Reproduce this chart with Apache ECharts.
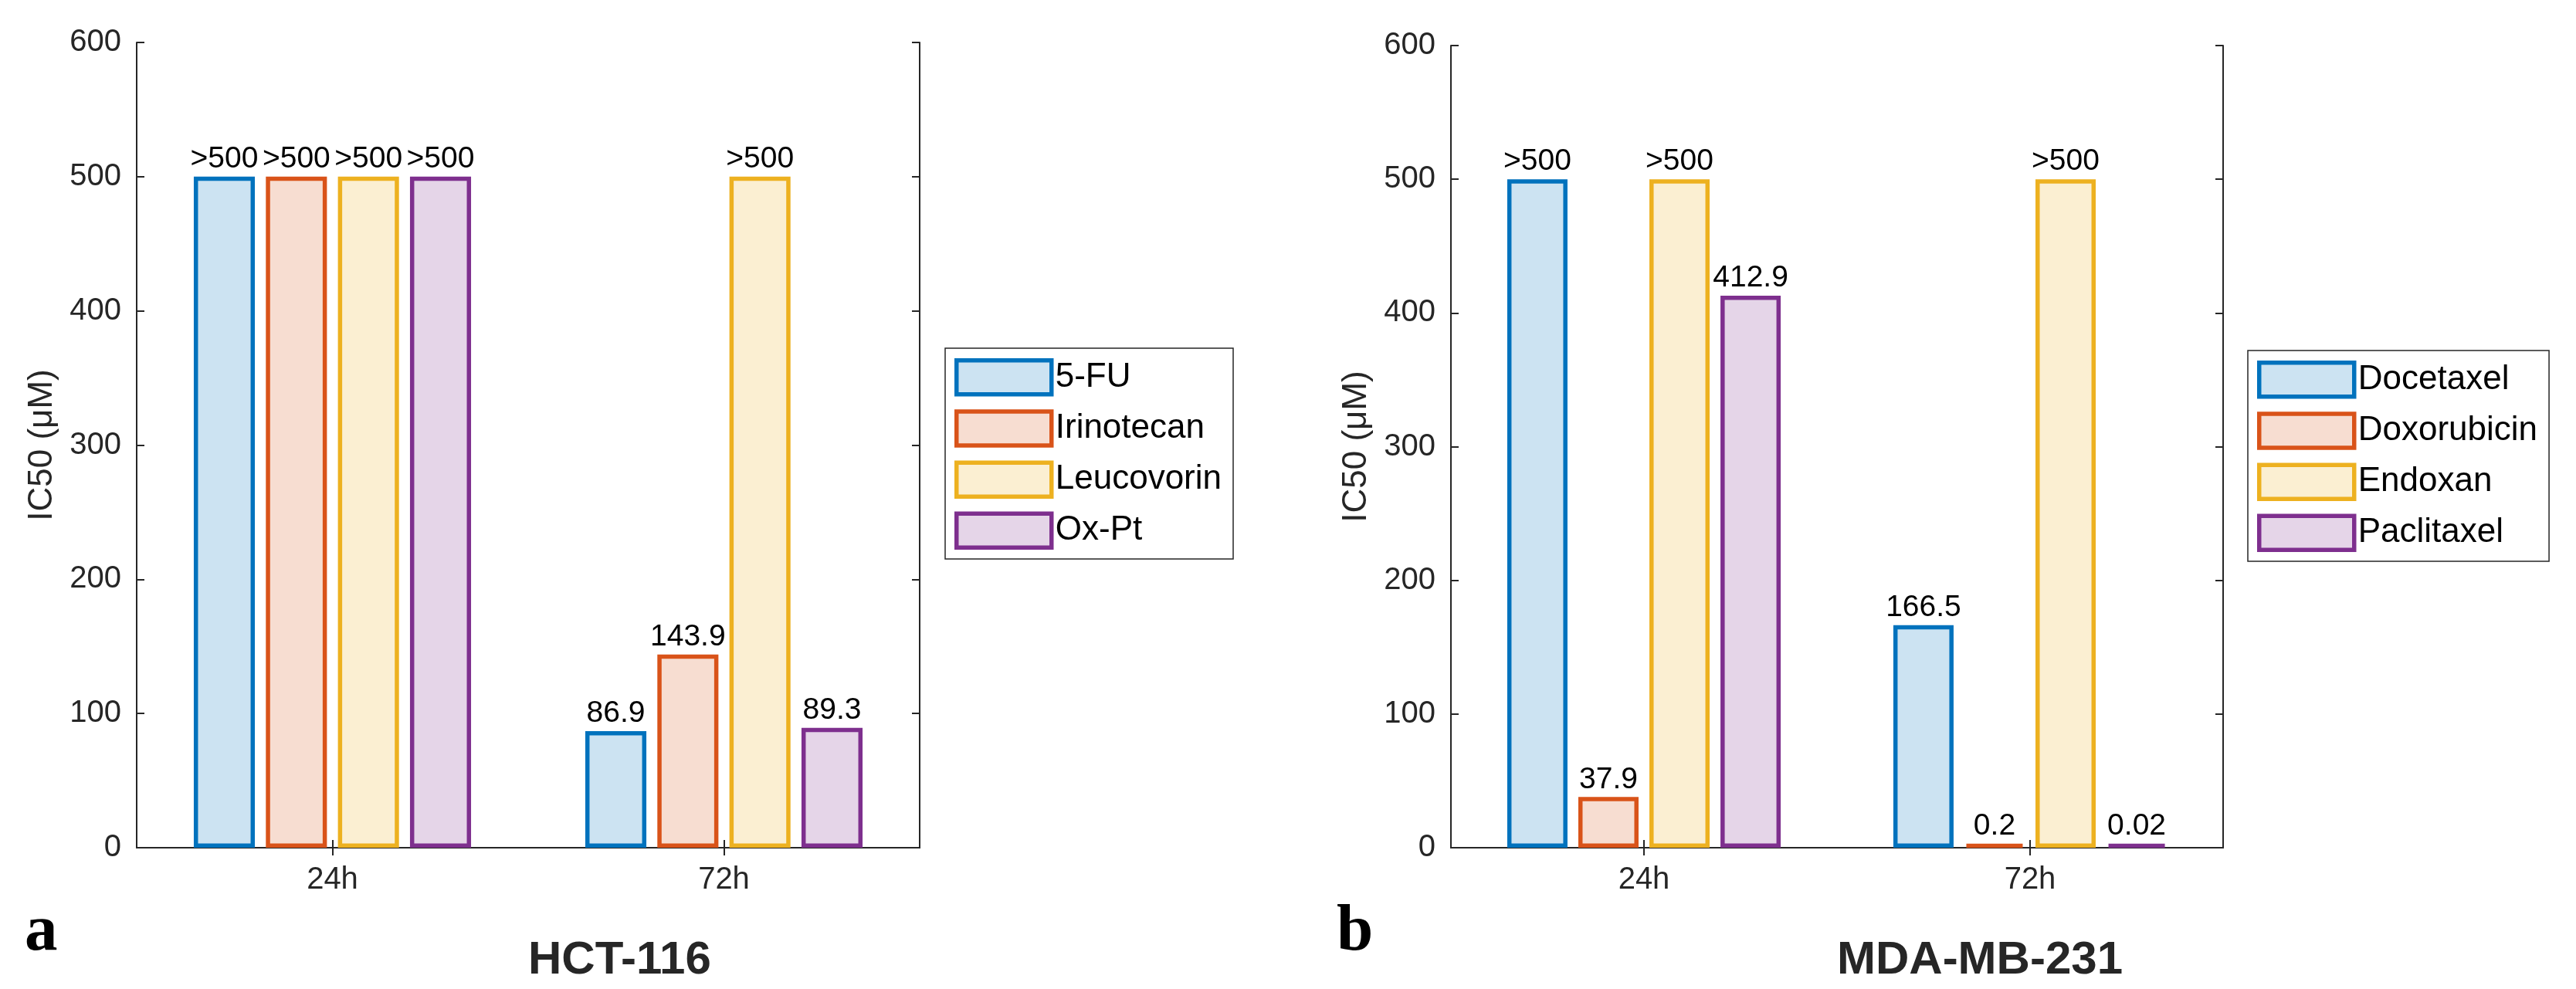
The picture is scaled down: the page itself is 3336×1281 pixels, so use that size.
<!DOCTYPE html>
<html>
<head>
<meta charset="utf-8">
<script src="https://cdn.jsdelivr.net/npm/echarts@6/dist/echarts.min.js"></script>
<style>
html,body{margin:0;padding:0;background:#fff;}
#chart{width:3336px;height:1281px;}
</style>
</head>
<body>
<div id="chart"></div>
<script>
// ---- data ----
const timeCategories = ['24h', '72h'];
const yTicks = [0, 100, 200, 300, 400, 500, 600];

const hctDrugs = ['5-FU', 'Irinotecan', 'Leucovorin', 'Ox-Pt'];
const hct5FU = [500, 86.9];
const hctIrinotecan = [500, 143.9];
const hctLeucovorin = [500, 500];
const hctOxPt = [500, 89.3];

const mdaDrugs = ['Docetaxel', 'Doxorubicin', 'Endoxan', 'Paclitaxel'];
const mdaDocetaxel = [500, 166.5];
const mdaDoxorubicin = [37.9, 0.2];
const mdaEndoxan = [500, 500];
const mdaPaclitaxel = [412.9, 0.02];

const panelTitles = ['HCT-116', 'MDA-MB-231'];
const panelLetters = ['a', 'b'];
const yAxisName = 'IC50 (μM)';
const capValue = 500;

// ---- styling ----
const FONT = '"Liberation Sans", Arial, Helvetica, sans-serif';
const AX = '#262626';
const colors = ['#0072BD', '#D95319', '#EDB120', '#7E2F8E'];
const fills = ['rgba(0,114,189,0.2)', 'rgba(217,83,25,0.2)', 'rgba(237,177,32,0.2)', 'rgba(126,47,142,0.2)'];
const BW = 5.5;

const grids = [
  {left: 177, top: 55, width: 1014, height: 1043},
  {left: 1879, top: 59, width: 1000, height: 1039}
];

function mkX(gi, pos) {
  return {
    gridIndex: gi, type: 'category', data: timeCategories, position: pos,
    axisLine: {show: true, lineStyle: {color: AX, width: 2}},
    axisTick: {show: true, inside: true, length: 10, alignWithLabel: true, lineStyle: {color: AX, width: 2}},
    axisLabel: {show: pos === 'bottom', fontSize: 40, color: AX, fontFamily: FONT, margin: 22},
    splitLine: {show: false}
  };
}
function mkY(gi, pos) {
  const o = {
    gridIndex: gi, type: 'value', min: yTicks[0], max: yTicks[yTicks.length - 1], interval: yTicks[1] - yTicks[0],
    position: pos,
    axisLine: {show: true, lineStyle: {color: AX, width: 2}},
    axisTick: {show: true, inside: true, length: 10, lineStyle: {color: AX, width: 2}},
    axisLabel: {show: pos === 'left', fontSize: 40, color: AX, fontFamily: FONT, margin: 20},
    splitLine: {show: false}
  };
  if (pos === 'left') {
    o.name = yAxisName;
    o.nameLocation = 'middle';
    o.nameGap = 100;
    o.nameTextStyle = {fontSize: 44, color: AX, fontFamily: FONT};
  }
  return o;
}

function mkSeries(name, data, idx, xi, yi) {
  return {
    name: name, type: 'bar', data: data, xAxisIndex: xi, yAxisIndex: yi,
    barWidth: '15.6%', barGap: '18%', barMinHeight: 5,
    itemStyle: {color: fills[idx], borderColor: colors[idx], borderWidth: BW},
    label: {
      show: true, position: 'top', distance: 3, fontSize: 39, color: '#000', fontFamily: FONT,
      formatter: p => (p.value >= capValue ? '>' + capValue : String(p.value))
    },
    emphasis: {disabled: true}
  };
}

function mkLegend(names, left, top) {
  return {
    data: names.map((n, i) => ({
      name: n, icon: 'rect',
      itemStyle: {color: fills[i], borderColor: colors[i], borderWidth: BW}
    })),
    orient: 'vertical', left: left, top: top,
    itemWidth: 123, itemHeight: 44, itemGap: 16.7, itemTextGap: 10,
    padding: [13, 15, 12, 12],
    borderColor: AX, borderWidth: 1.5, backgroundColor: '#fff',
    textStyle: {fontSize: 44, color: '#000', fontFamily: FONT},
    selectedMode: false
  };
}

const option = {
  animation: false,
  backgroundColor: '#fff',
  grid: grids,
  xAxis: [mkX(0, 'bottom'), mkX(0, 'top'), mkX(1, 'bottom'), mkX(1, 'top')],
  yAxis: [mkY(0, 'left'), mkY(0, 'right'), mkY(1, 'left'), mkY(1, 'right')],
  legend: [mkLegend(hctDrugs, 1224, 451), mkLegend(mdaDrugs, 2911, 454)],
  series: [
    mkSeries(hctDrugs[0], hct5FU, 0, 0, 0),
    mkSeries(hctDrugs[1], hctIrinotecan, 1, 0, 0),
    mkSeries(hctDrugs[2], hctLeucovorin, 2, 0, 0),
    mkSeries(hctDrugs[3], hctOxPt, 3, 0, 0),
    mkSeries(mdaDrugs[0], mdaDocetaxel, 0, 2, 2),
    mkSeries(mdaDrugs[1], mdaDoxorubicin, 1, 2, 2),
    mkSeries(mdaDrugs[2], mdaEndoxan, 2, 2, 2),
    mkSeries(mdaDrugs[3], mdaPaclitaxel, 3, 2, 2)
  ],
  graphic: [
    {type: 'text', left: 684, top: 1214, style: {text: panelTitles[0], font: 'bold 60px ' + FONT, fill: '#262626', textAlign: 'center', textVerticalAlign: 'middle'}},
    {type: 'text', left: 2379, top: 1214, style: {text: panelTitles[1], font: 'bold 60px ' + FONT, fill: '#262626', textAlign: 'center', textVerticalAlign: 'middle'}},
    {type: 'text', x: 32, y: 1208, style: {text: panelLetters[0], font: 'bold 85px "Liberation Serif", "Times New Roman", serif', fill: '#000', textAlign: 'left', textVerticalAlign: 'middle'}},
    {type: 'text', x: 1731, y: 1208, style: {text: panelLetters[1], font: 'bold 85px "Liberation Serif", "Times New Roman", serif', fill: '#000', textAlign: 'left', textVerticalAlign: 'middle'}}
  ]
};

const chart = echarts.init(document.getElementById('chart'), null, {renderer: 'canvas'});
chart.setOption(option);
</script>
</body>
</html>
